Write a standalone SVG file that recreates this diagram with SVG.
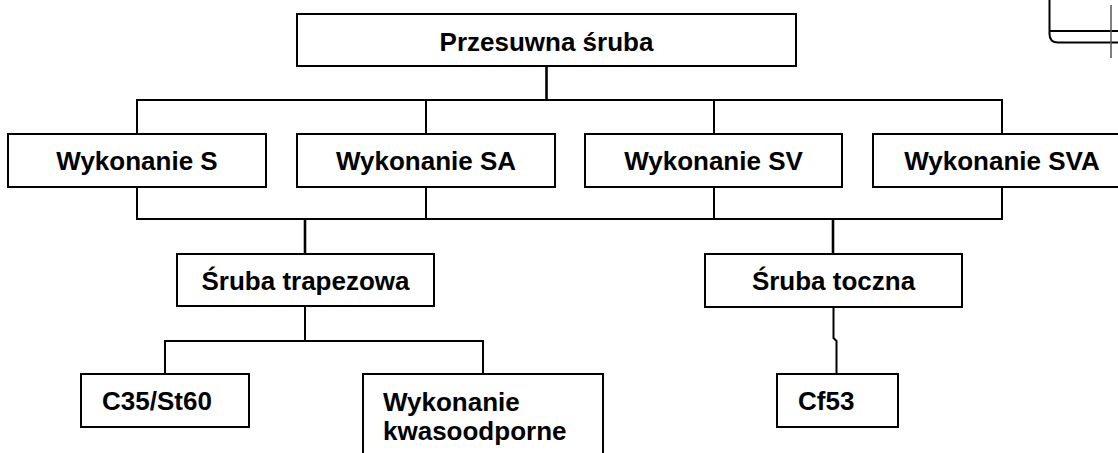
<svg xmlns="http://www.w3.org/2000/svg" width="1118" height="453" viewBox="0 0 1118 453">
<style>
.box{fill:#fff;stroke:#000;stroke-width:2}
.t{font-family:"Liberation Sans",Arial,sans-serif;font-weight:bold;font-size:26px;fill:#000}
.c{text-anchor:middle}
.ln{fill:none;stroke:#000;stroke-width:2}
.tr{fill:none;stroke:#000;stroke-width:2.6}
</style>
<rect width="1118" height="453" fill="#fff"/>
<g id="corner">
<path class="ln" d="M1049.5,0 V34 Q1049.5,42.5 1058,42.5 H1118"/>
<path class="ln" d="M1049.5,31 H1118"/>
<path d="M1111,5 V58" fill="none" stroke="#555" stroke-width="1.5"/>
</g>
<g id="connectors">
<path class="tr" d="M546.5,66 V100"/>
<path class="ln" d="M137,134 V100 H1002 V134 M426,100 V134 M714,100 V134"/>
<path class="ln" d="M137,187 V219 H1002 V187 M426,187 V219 M714,187 V219"/>
<path class="tr" d="M305,219 V254"/>
<path class="tr" d="M833,219 V254"/>
<path class="ln" d="M305,306 V341 M165,374 V341 H483 V374"/>
<path class="ln" d="M833.5,307 V338 L836.5,341 V374"/>
</g>
<g id="n-przesuwna">
<rect class="box" x="297" y="14" width="499" height="52"/>
<text class="t c" x="546.5" y="51">Przesuwna śruba</text>
</g>
<g id="n-s">
<rect class="box" x="8" y="134" width="258" height="53"/>
<text class="t c" x="137" y="170">Wykonanie S</text>
</g>
<g id="n-sa">
<rect class="box" x="297" y="134" width="258" height="53"/>
<text class="t c" x="426" y="170">Wykonanie SA</text>
</g>
<g id="n-sv">
<rect class="box" x="585" y="134" width="257" height="53"/>
<text class="t c" x="713.5" y="170">Wykonanie SV</text>
</g>
<g id="n-sva">
<rect class="box" x="873" y="134" width="258" height="53"/>
<text class="t c" x="1002" y="170">Wykonanie SVA</text>
</g>
<g id="n-trapezowa">
<rect class="box" x="177" y="254" width="257" height="52"/>
<text class="t c" x="305.5" y="290">Śruba trapezowa</text>
</g>
<g id="n-toczna">
<rect class="box" x="705" y="254" width="257" height="53"/>
<text class="t c" x="833.5" y="290">Śruba toczna</text>
</g>
<g id="n-c35">
<rect class="box" x="81" y="374" width="168" height="53"/>
<text class="t" x="102" y="410">C35/St60</text>
</g>
<g id="n-kwaso">
<rect class="box" x="363" y="374" width="240" height="90"/>
<text class="t" x="383" y="411">Wykonanie</text>
<text class="t" x="383" y="440">kwasoodporne</text>
</g>
<g id="n-cf53">
<rect class="box" x="777" y="374" width="121" height="53"/>
<text class="t" x="798" y="410">Cf53</text>
</g>
</svg>
